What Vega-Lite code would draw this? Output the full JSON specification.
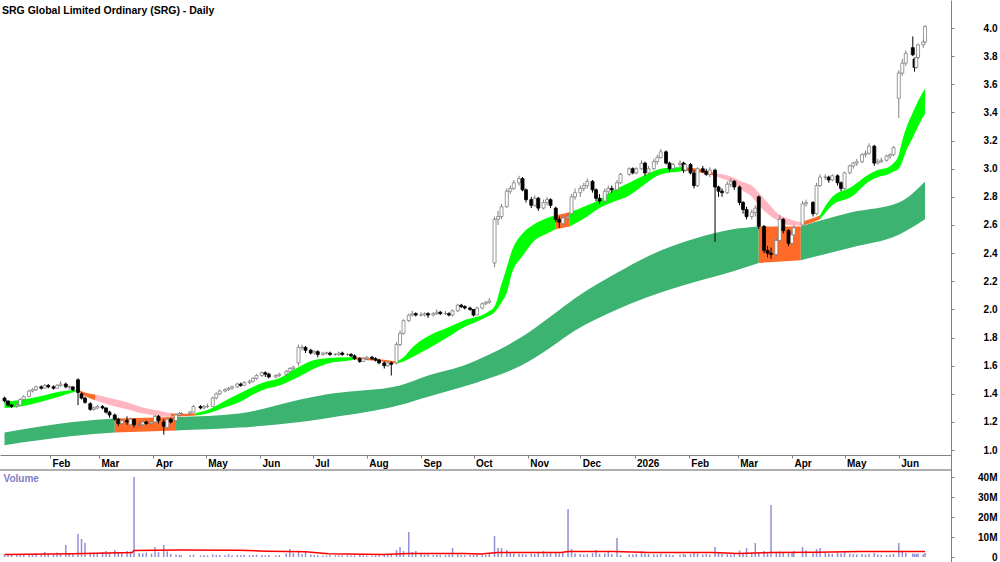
{
  "$schema": "https://vega.github.io/schema/vega-lite/v6.json",
  "width": 951,
  "height": 562,
  "autosize": {"type": "none"},
  "padding": {"left": 0, "top": 0, "right": 49, "bottom": 0},
  "background": "white",
  "title": {"text": "SRG Global Limited Ordinary (SRG) - Daily", "anchor": "start", "frame": "group", "offset": -24, "dx": 2, "font": "Liberation Sans", "fontSize": 10.5, "fontWeight": "bold", "color": "#000000", "baseline": "alphabetic"},
  "config": {"view": {"stroke": null}, "axis": {"labelFont": "Liberation Sans", "labelFontSize": 10, "labelFontWeight": "bold", "labelColor": "#000000", "domainColor": "#808080", "tickColor": "#808080", "grid": false, "labelOverlap": false}},
  "datasets": {
    "candles": [
      {"d":"2025-01-06","o":1.37,"h":1.38,"l":1.34,"c":1.35,"v":1.2},
      {"d":"2025-01-08","o":1.35,"h":1.35,"l":1.31,"c":1.32,"v":1.0},
      {"d":"2025-01-10","o":1.32,"h":1.33,"l":1.30,"c":1.31,"v":1.1},
      {"d":"2025-01-13","o":1.31,"h":1.33,"l":1.30,"c":1.32,"v":0.9},
      {"d":"2025-01-15","o":1.32,"h":1.37,"l":1.32,"c":1.36,"v":1.4},
      {"d":"2025-01-17","o":1.36,"h":1.39,"l":1.35,"c":1.38,"v":1.1},
      {"d":"2025-01-20","o":1.38,"h":1.43,"l":1.38,"c":1.42,"v":1.6},
      {"d":"2025-01-22","o":1.42,"h":1.44,"l":1.41,"c":1.43,"v":1.3},
      {"d":"2025-01-24","o":1.43,"h":1.46,"l":1.42,"c":1.45,"v":2.0},
      {"d":"2025-01-27","o":1.45,"h":1.46,"l":1.43,"c":1.44,"v":1.2},
      {"d":"2025-01-29","o":1.44,"h":1.47,"l":1.44,"c":1.46,"v":2.5},
      {"d":"2025-01-31","o":1.46,"h":1.47,"l":1.44,"c":1.45,"v":1.5},
      {"d":"2025-02-03","o":1.45,"h":1.46,"l":1.43,"c":1.44,"v":1.2},
      {"d":"2025-02-05","o":1.44,"h":1.47,"l":1.44,"c":1.46,"v":2.2},
      {"d":"2025-02-07","o":1.46,"h":1.49,"l":1.45,"c":1.47,"v":1.8},
      {"d":"2025-02-10","o":1.47,"h":1.48,"l":1.44,"c":1.45,"v":6.0},
      {"d":"2025-02-12","o":1.45,"h":1.46,"l":1.43,"c":1.45,"v":1.5},
      {"d":"2025-02-14","o":1.45,"h":1.45,"l":1.42,"c":1.43,"v":1.4},
      {"d":"2025-02-17","o":1.50,"h":1.51,"l":1.32,"c":1.41,"v":11.5},
      {"d":"2025-02-19","o":1.40,"h":1.41,"l":1.36,"c":1.37,"v":9.0},
      {"d":"2025-02-21","o":1.37,"h":1.38,"l":1.33,"c":1.34,"v":7.0},
      {"d":"2025-02-24","o":1.33,"h":1.34,"l":1.28,"c":1.29,"v":2.2},
      {"d":"2025-02-26","o":1.29,"h":1.31,"l":1.28,"c":1.30,"v":1.8},
      {"d":"2025-02-28","o":1.30,"h":1.32,"l":1.29,"c":1.31,"v":2.0},
      {"d":"2025-03-03","o":1.31,"h":1.32,"l":1.29,"c":1.30,"v":2.5},
      {"d":"2025-03-05","o":1.30,"h":1.30,"l":1.26,"c":1.27,"v":3.0},
      {"d":"2025-03-07","o":1.27,"h":1.28,"l":1.23,"c":1.25,"v":2.4},
      {"d":"2025-03-10","o":1.25,"h":1.26,"l":1.21,"c":1.22,"v":3.5},
      {"d":"2025-03-12","o":1.22,"h":1.23,"l":1.17,"c":1.19,"v":2.6},
      {"d":"2025-03-14","o":1.19,"h":1.22,"l":1.18,"c":1.21,"v":2.2},
      {"d":"2025-03-17","o":1.21,"h":1.24,"l":1.18,"c":1.20,"v":3.0},
      {"d":"2025-03-19","o":1.18,"h":1.23,"l":1.17,"c":1.22,"v":2.8},
      {"d":"2025-03-21","o":1.22,"h":1.22,"l":1.16,"c":1.18,"v":40},
      {"d":"2025-03-24","o":1.18,"h":1.20,"l":1.16,"c":1.18,"v":2.0},
      {"d":"2025-03-26","o":1.18,"h":1.21,"l":1.17,"c":1.20,"v":1.8},
      {"d":"2025-03-28","o":1.20,"h":1.21,"l":1.18,"c":1.19,"v":2.2},
      {"d":"2025-03-31","o":1.19,"h":1.21,"l":1.18,"c":1.20,"v":1.6},
      {"d":"2025-04-02","o":1.20,"h":1.25,"l":1.20,"c":1.24,"v":5.0},
      {"d":"2025-04-04","o":1.24,"h":1.25,"l":1.19,"c":1.21,"v":2.4},
      {"d":"2025-04-07","o":1.20,"h":1.22,"l":1.11,"c":1.17,"v":6.0},
      {"d":"2025-04-09","o":1.16,"h":1.23,"l":1.15,"c":1.22,"v":2.8},
      {"d":"2025-04-11","o":1.22,"h":1.23,"l":1.19,"c":1.20,"v":1.5},
      {"d":"2025-04-14","o":1.21,"h":1.26,"l":1.21,"c":1.25,"v":1.2},
      {"d":"2025-04-16","o":1.25,"h":1.27,"l":1.24,"c":1.26,"v":1.0},
      {"d":"2025-04-17","o":1.26,"h":1.27,"l":1.25,"c":1.26,"v":0.8},
      {"d":"2025-04-22","o":1.26,"h":1.28,"l":1.25,"c":1.27,"v":0.9},
      {"d":"2025-04-24","o":1.27,"h":1.32,"l":1.27,"c":1.31,"v":1.2},
      {"d":"2025-04-28","o":1.31,"h":1.32,"l":1.29,"c":1.30,"v":0.8},
      {"d":"2025-04-30","o":1.30,"h":1.32,"l":1.29,"c":1.31,"v":1.0},
      {"d":"2025-05-02","o":1.31,"h":1.33,"l":1.30,"c":1.31,"v":0.9},
      {"d":"2025-05-05","o":1.31,"h":1.38,"l":1.31,"c":1.37,"v":1.3},
      {"d":"2025-05-07","o":1.37,"h":1.41,"l":1.36,"c":1.40,"v":1.1},
      {"d":"2025-05-09","o":1.40,"h":1.43,"l":1.39,"c":1.42,"v":1.0},
      {"d":"2025-05-12","o":1.42,"h":1.44,"l":1.41,"c":1.43,"v":0.9},
      {"d":"2025-05-14","o":1.43,"h":1.45,"l":1.42,"c":1.44,"v":1.4},
      {"d":"2025-05-16","o":1.44,"h":1.46,"l":1.43,"c":1.45,"v":0.8},
      {"d":"2025-05-19","o":1.45,"h":1.48,"l":1.44,"c":1.47,"v":1.0},
      {"d":"2025-05-21","o":1.47,"h":1.48,"l":1.45,"c":1.46,"v":0.9},
      {"d":"2025-05-23","o":1.46,"h":1.49,"l":1.46,"c":1.48,"v":1.1},
      {"d":"2025-05-26","o":1.48,"h":1.50,"l":1.47,"c":1.49,"v":0.8},
      {"d":"2025-05-28","o":1.49,"h":1.52,"l":1.48,"c":1.51,"v":1.0},
      {"d":"2025-05-30","o":1.51,"h":1.54,"l":1.50,"c":1.53,"v":1.2},
      {"d":"2025-06-02","o":1.53,"h":1.56,"l":1.52,"c":1.55,"v":0.9},
      {"d":"2025-06-04","o":1.55,"h":1.56,"l":1.52,"c":1.54,"v":0.8},
      {"d":"2025-06-06","o":1.54,"h":1.55,"l":1.51,"c":1.52,"v":1.0},
      {"d":"2025-06-10","o":1.52,"h":1.54,"l":1.51,"c":1.53,"v":0.7},
      {"d":"2025-06-12","o":1.53,"h":1.55,"l":1.52,"c":1.54,"v":0.9},
      {"d":"2025-06-16","o":1.54,"h":1.57,"l":1.53,"c":1.56,"v":1.8},
      {"d":"2025-06-18","o":1.56,"h":1.59,"l":1.55,"c":1.58,"v":4.0},
      {"d":"2025-06-20","o":1.58,"h":1.60,"l":1.56,"c":1.59,"v":2.0},
      {"d":"2025-06-23","o":1.62,"h":1.75,"l":1.60,"c":1.73,"v":3.2},
      {"d":"2025-06-25","o":1.73,"h":1.75,"l":1.71,"c":1.73,"v":1.5},
      {"d":"2025-06-27","o":1.73,"h":1.74,"l":1.69,"c":1.71,"v":3.0},
      {"d":"2025-06-30","o":1.71,"h":1.72,"l":1.68,"c":1.69,"v":1.2},
      {"d":"2025-07-02","o":1.69,"h":1.71,"l":1.68,"c":1.70,"v":1.0},
      {"d":"2025-07-04","o":1.70,"h":1.71,"l":1.66,"c":1.68,"v":0.9},
      {"d":"2025-07-07","o":1.68,"h":1.70,"l":1.67,"c":1.69,"v":0.8},
      {"d":"2025-07-09","o":1.69,"h":1.70,"l":1.68,"c":1.69,"v":0.7},
      {"d":"2025-07-11","o":1.69,"h":1.70,"l":1.67,"c":1.68,"v":0.9},
      {"d":"2025-07-14","o":1.68,"h":1.69,"l":1.67,"c":1.68,"v":0.8},
      {"d":"2025-07-16","o":1.68,"h":1.70,"l":1.67,"c":1.69,"v":0.7},
      {"d":"2025-07-18","o":1.69,"h":1.70,"l":1.67,"c":1.68,"v":0.8},
      {"d":"2025-07-21","o":1.68,"h":1.69,"l":1.67,"c":1.68,"v":0.9},
      {"d":"2025-07-23","o":1.68,"h":1.69,"l":1.66,"c":1.67,"v":0.7},
      {"d":"2025-07-25","o":1.67,"h":1.68,"l":1.64,"c":1.65,"v":0.8},
      {"d":"2025-07-28","o":1.65,"h":1.66,"l":1.62,"c":1.63,"v":1.0},
      {"d":"2025-07-30","o":1.63,"h":1.66,"l":1.63,"c":1.65,"v":0.8},
      {"d":"2025-08-01","o":1.65,"h":1.67,"l":1.64,"c":1.66,"v":0.7},
      {"d":"2025-08-04","o":1.66,"h":1.67,"l":1.64,"c":1.65,"v":0.6},
      {"d":"2025-08-06","o":1.65,"h":1.66,"l":1.63,"c":1.64,"v":0.8},
      {"d":"2025-08-08","o":1.64,"h":1.65,"l":1.61,"c":1.62,"v":0.9},
      {"d":"2025-08-11","o":1.62,"h":1.63,"l":1.58,"c":1.60,"v":1.1},
      {"d":"2025-08-13","o":1.60,"h":1.63,"l":1.59,"c":1.62,"v":1.0},
      {"d":"2025-08-15","o":1.62,"h":1.63,"l":1.53,"c":1.61,"v":1.5},
      {"d":"2025-08-18","o":1.62,"h":1.77,"l":1.61,"c":1.75,"v":3.5},
      {"d":"2025-08-20","o":1.75,"h":1.85,"l":1.74,"c":1.83,"v":5.0},
      {"d":"2025-08-22","o":1.83,"h":1.93,"l":1.82,"c":1.92,"v":3.0},
      {"d":"2025-08-25","o":1.92,"h":1.97,"l":1.91,"c":1.96,"v":12.5},
      {"d":"2025-08-27","o":1.96,"h":1.99,"l":1.95,"c":1.97,"v":2.5},
      {"d":"2025-08-29","o":1.97,"h":1.98,"l":1.95,"c":1.96,"v":3.0},
      {"d":"2025-09-01","o":1.96,"h":1.98,"l":1.95,"c":1.96,"v":1.5},
      {"d":"2025-09-03","o":1.96,"h":1.98,"l":1.95,"c":1.97,"v":1.2},
      {"d":"2025-09-05","o":1.97,"h":1.98,"l":1.94,"c":1.96,"v":1.4},
      {"d":"2025-09-08","o":1.96,"h":1.98,"l":1.95,"c":1.97,"v":1.0},
      {"d":"2025-09-10","o":1.97,"h":2.00,"l":1.96,"c":1.98,"v":1.3},
      {"d":"2025-09-12","o":1.98,"h":1.99,"l":1.96,"c":1.97,"v":1.1},
      {"d":"2025-09-15","o":1.97,"h":1.99,"l":1.96,"c":1.97,"v":1.0},
      {"d":"2025-09-17","o":1.97,"h":1.98,"l":1.95,"c":1.96,"v":1.2},
      {"d":"2025-09-19","o":1.96,"h":2.00,"l":1.95,"c":1.99,"v":4.5},
      {"d":"2025-09-22","o":1.99,"h":2.04,"l":1.98,"c":2.03,"v":1.4},
      {"d":"2025-09-24","o":2.03,"h":2.04,"l":2.01,"c":2.02,"v":1.0},
      {"d":"2025-09-26","o":2.02,"h":2.03,"l":2.00,"c":2.01,"v":0.9},
      {"d":"2025-09-29","o":2.01,"h":2.02,"l":1.99,"c":2.00,"v":1.0},
      {"d":"2025-10-01","o":2.00,"h":2.00,"l":1.95,"c":1.96,"v":1.1},
      {"d":"2025-10-03","o":1.96,"h":2.02,"l":1.96,"c":2.01,"v":1.3},
      {"d":"2025-10-06","o":2.01,"h":2.05,"l":2.00,"c":2.04,"v":1.2},
      {"d":"2025-10-08","o":2.04,"h":2.06,"l":2.03,"c":2.05,"v":1.0},
      {"d":"2025-10-10","o":2.05,"h":2.08,"l":2.04,"c":2.06,"v":1.5},
      {"d":"2025-10-13","o":2.33,"h":2.66,"l":2.30,"c":2.64,"v":10.5},
      {"d":"2025-10-15","o":2.64,"h":2.70,"l":2.60,"c":2.66,"v":4.5},
      {"d":"2025-10-17","o":2.66,"h":2.75,"l":2.64,"c":2.73,"v":4.5},
      {"d":"2025-10-20","o":2.73,"h":2.86,"l":2.72,"c":2.84,"v":3.5},
      {"d":"2025-10-22","o":2.84,"h":2.88,"l":2.82,"c":2.86,"v":2.0},
      {"d":"2025-10-24","o":2.86,"h":2.92,"l":2.85,"c":2.90,"v":1.8},
      {"d":"2025-10-27","o":2.90,"h":2.95,"l":2.88,"c":2.93,"v":1.6},
      {"d":"2025-10-29","o":2.93,"h":2.94,"l":2.84,"c":2.85,"v":1.5},
      {"d":"2025-10-31","o":2.85,"h":2.86,"l":2.76,"c":2.78,"v":1.4},
      {"d":"2025-11-03","o":2.78,"h":2.80,"l":2.72,"c":2.74,"v":1.6},
      {"d":"2025-11-05","o":2.74,"h":2.81,"l":2.73,"c":2.79,"v":1.5},
      {"d":"2025-11-07","o":2.79,"h":2.80,"l":2.70,"c":2.72,"v":2.0},
      {"d":"2025-11-10","o":2.72,"h":2.78,"l":2.71,"c":2.76,"v":3.0},
      {"d":"2025-11-12","o":2.76,"h":2.80,"l":2.74,"c":2.78,"v":1.6},
      {"d":"2025-11-14","o":2.78,"h":2.79,"l":2.72,"c":2.74,"v":2.0},
      {"d":"2025-11-17","o":2.72,"h":2.73,"l":2.62,"c":2.64,"v":2.2},
      {"d":"2025-11-19","o":2.64,"h":2.66,"l":2.58,"c":2.62,"v":1.8},
      {"d":"2025-11-21","o":2.61,"h":2.67,"l":2.60,"c":2.65,"v":2.5},
      {"d":"2025-11-24","o":2.65,"h":2.69,"l":2.63,"c":2.66,"v":24},
      {"d":"2025-11-26","o":2.68,"h":2.82,"l":2.67,"c":2.80,"v":4.0},
      {"d":"2025-11-28","o":2.80,"h":2.86,"l":2.78,"c":2.83,"v":1.8},
      {"d":"2025-12-01","o":2.83,"h":2.88,"l":2.80,"c":2.86,"v":1.5},
      {"d":"2025-12-03","o":2.86,"h":2.90,"l":2.84,"c":2.88,"v":1.2},
      {"d":"2025-12-05","o":2.88,"h":2.93,"l":2.86,"c":2.91,"v":1.4},
      {"d":"2025-12-08","o":2.91,"h":2.92,"l":2.83,"c":2.85,"v":2.0},
      {"d":"2025-12-10","o":2.85,"h":2.86,"l":2.77,"c":2.79,"v":3.5},
      {"d":"2025-12-12","o":2.79,"h":2.82,"l":2.75,"c":2.77,"v":1.6},
      {"d":"2025-12-15","o":2.77,"h":2.86,"l":2.76,"c":2.84,"v":1.8},
      {"d":"2025-12-17","o":2.84,"h":2.88,"l":2.82,"c":2.86,"v":3.2},
      {"d":"2025-12-19","o":2.86,"h":2.88,"l":2.83,"c":2.85,"v":1.5},
      {"d":"2025-12-22","o":2.85,"h":2.92,"l":2.84,"c":2.90,"v":9.5},
      {"d":"2025-12-24","o":2.90,"h":2.97,"l":2.89,"c":2.96,"v":1.0},
      {"d":"2025-12-29","o":2.96,"h":3.01,"l":2.95,"c":3.00,"v":1.4},
      {"d":"2025-12-31","o":3.00,"h":3.01,"l":2.96,"c":2.97,"v":1.2},
      {"d":"2026-01-02","o":2.97,"h":3.01,"l":2.96,"c":3.00,"v":1.6},
      {"d":"2026-01-05","o":3.00,"h":3.06,"l":2.99,"c":3.04,"v":3.0},
      {"d":"2026-01-07","o":3.04,"h":3.05,"l":2.95,"c":2.97,"v":1.8},
      {"d":"2026-01-09","o":2.97,"h":3.02,"l":2.96,"c":3.00,"v":1.5},
      {"d":"2026-01-12","o":3.00,"h":3.07,"l":2.99,"c":3.05,"v":1.4},
      {"d":"2026-01-14","o":3.05,"h":3.10,"l":3.03,"c":3.08,"v":1.2},
      {"d":"2026-01-16","o":3.08,"h":3.14,"l":3.07,"c":3.12,"v":1.6},
      {"d":"2026-01-19","o":3.12,"h":3.13,"l":3.03,"c":3.04,"v":1.4},
      {"d":"2026-01-21","o":3.04,"h":3.05,"l":2.98,"c":3.00,"v":1.2},
      {"d":"2026-01-23","o":3.00,"h":3.04,"l":2.99,"c":3.03,"v":1.0},
      {"d":"2026-01-27","o":3.03,"h":3.06,"l":3.01,"c":3.04,"v":1.3},
      {"d":"2026-01-29","o":3.04,"h":3.05,"l":2.97,"c":2.99,"v":1.5},
      {"d":"2026-01-30","o":2.99,"h":3.04,"l":2.98,"c":3.03,"v":1.2},
      {"d":"2026-02-02","o":3.03,"h":3.04,"l":2.96,"c":2.97,"v":1.4},
      {"d":"2026-02-04","o":2.97,"h":2.99,"l":2.86,"c":2.88,"v":2.0},
      {"d":"2026-02-06","o":2.88,"h":3.01,"l":2.87,"c":3.00,"v":1.8},
      {"d":"2026-02-09","o":3.00,"h":3.02,"l":2.97,"c":2.98,"v":1.2},
      {"d":"2026-02-11","o":2.98,"h":3.00,"l":2.95,"c":2.96,"v":1.5},
      {"d":"2026-02-13","o":2.96,"h":3.01,"l":2.94,"c":2.99,"v":1.3},
      {"d":"2026-02-16","o":2.99,"h":3.00,"l":2.48,"c":2.87,"v":5.0},
      {"d":"2026-02-18","o":2.87,"h":2.88,"l":2.80,"c":2.84,"v":2.2},
      {"d":"2026-02-20","o":2.84,"h":2.86,"l":2.80,"c":2.83,"v":1.5},
      {"d":"2026-02-23","o":2.83,"h":2.91,"l":2.82,"c":2.89,"v":1.4},
      {"d":"2026-02-25","o":2.89,"h":2.93,"l":2.87,"c":2.91,"v":1.2},
      {"d":"2026-02-27","o":2.91,"h":2.92,"l":2.85,"c":2.87,"v":1.6},
      {"d":"2026-03-02","o":2.87,"h":2.88,"l":2.74,"c":2.76,"v":3.2},
      {"d":"2026-03-04","o":2.76,"h":2.77,"l":2.68,"c":2.71,"v":2.0},
      {"d":"2026-03-06","o":2.71,"h":2.73,"l":2.64,"c":2.66,"v":4.5},
      {"d":"2026-03-09","o":2.66,"h":2.71,"l":2.64,"c":2.69,"v":2.2},
      {"d":"2026-03-11","o":2.69,"h":2.74,"l":2.66,"c":2.72,"v":7.0},
      {"d":"2026-03-13","o":2.80,"h":2.81,"l":2.57,"c":2.59,"v":2.5},
      {"d":"2026-03-16","o":2.59,"h":2.60,"l":2.40,"c":2.42,"v":3.0},
      {"d":"2026-03-18","o":2.42,"h":2.45,"l":2.37,"c":2.40,"v":2.4},
      {"d":"2026-03-20","o":2.40,"h":2.44,"l":2.36,"c":2.39,"v":26},
      {"d":"2026-03-23","o":2.39,"h":2.51,"l":2.38,"c":2.49,"v":2.6},
      {"d":"2026-03-25","o":2.49,"h":2.67,"l":2.48,"c":2.64,"v":2.8},
      {"d":"2026-03-27","o":2.64,"h":2.65,"l":2.54,"c":2.56,"v":2.2},
      {"d":"2026-03-30","o":2.56,"h":2.57,"l":2.45,"c":2.47,"v":2.0},
      {"d":"2026-04-01","o":2.47,"h":2.55,"l":2.46,"c":2.53,"v":2.4},
      {"d":"2026-04-02","o":2.53,"h":2.60,"l":2.52,"c":2.58,"v":3.0},
      {"d":"2026-04-07","o":2.60,"h":2.77,"l":2.59,"c":2.75,"v":5.0},
      {"d":"2026-04-09","o":2.75,"h":2.78,"l":2.73,"c":2.76,"v":3.2},
      {"d":"2026-04-13","o":2.76,"h":2.77,"l":2.66,"c":2.68,"v":2.4},
      {"d":"2026-04-15","o":2.68,"h":2.90,"l":2.67,"c":2.88,"v":4.0},
      {"d":"2026-04-17","o":2.88,"h":2.96,"l":2.87,"c":2.94,"v":4.5},
      {"d":"2026-04-20","o":2.94,"h":2.96,"l":2.92,"c":2.94,"v":2.0},
      {"d":"2026-04-22","o":2.94,"h":2.95,"l":2.90,"c":2.92,"v":1.8},
      {"d":"2026-04-24","o":2.92,"h":2.96,"l":2.91,"c":2.95,"v":1.6},
      {"d":"2026-04-27","o":2.95,"h":2.96,"l":2.88,"c":2.90,"v":2.2},
      {"d":"2026-04-29","o":2.90,"h":2.91,"l":2.84,"c":2.86,"v":1.8},
      {"d":"2026-05-01","o":2.86,"h":2.98,"l":2.85,"c":2.97,"v":2.4},
      {"d":"2026-05-04","o":2.97,"h":3.03,"l":2.96,"c":3.02,"v":1.6},
      {"d":"2026-05-06","o":3.02,"h":3.05,"l":3.00,"c":3.04,"v":1.4},
      {"d":"2026-05-08","o":3.04,"h":3.07,"l":3.02,"c":3.05,"v":1.3},
      {"d":"2026-05-11","o":3.05,"h":3.11,"l":3.04,"c":3.10,"v":1.5},
      {"d":"2026-05-13","o":3.10,"h":3.13,"l":3.08,"c":3.11,"v":1.2},
      {"d":"2026-05-15","o":3.11,"h":3.18,"l":3.10,"c":3.16,"v":1.6},
      {"d":"2026-05-18","o":3.16,"h":3.17,"l":3.02,"c":3.04,"v":2.0},
      {"d":"2026-05-20","o":3.04,"h":3.07,"l":3.03,"c":3.05,"v":1.2},
      {"d":"2026-05-22","o":3.05,"h":3.08,"l":3.04,"c":3.06,"v":1.1},
      {"d":"2026-05-25","o":3.06,"h":3.10,"l":3.05,"c":3.09,"v":1.0},
      {"d":"2026-05-27","o":3.09,"h":3.11,"l":3.07,"c":3.10,"v":1.3},
      {"d":"2026-05-29","o":3.10,"h":3.16,"l":3.09,"c":3.15,"v":1.5},
      {"d":"2026-06-01","o":3.50,"h":3.70,"l":3.36,"c":3.68,"v":7.0},
      {"d":"2026-06-03","o":3.68,"h":3.78,"l":3.66,"c":3.75,"v":3.0},
      {"d":"2026-06-05","o":3.75,"h":3.84,"l":3.73,"c":3.82,"v":2.0},
      {"d":"2026-06-09","o":3.86,"h":3.94,"l":3.80,"c":3.81,"v":1.8},
      {"d":"2026-06-10","o":3.78,"h":3.79,"l":3.69,"c":3.72,"v":1.6},
      {"d":"2026-06-11","o":3.72,"h":3.81,"l":3.71,"c":3.79,"v":1.5},
      {"d":"2026-06-12","o":3.79,"h":3.89,"l":3.78,"c":3.88,"v":1.8},
      {"d":"2026-06-15","o":3.88,"h":3.92,"l":3.86,"c":3.90,"v":1.4},
      {"d":"2026-06-16","o":3.90,"h":4.02,"l":3.89,"c":4.01,"v":2.0}
    ],
    "stRib": [
      {"d":"2025-01-06","t":1.345,"b":1.30,"s":"g1","k":"g"},
      {"d":"2025-01-15","t":1.356,"b":1.31,"s":"g1","k":"g"},
      {"d":"2025-01-27","t":1.385,"b":1.344,"s":"g1","k":"g"},
      {"d":"2025-02-06","t":1.415,"b":1.38,"s":"g1","k":"g"},
      {"d":"2025-02-14","t":1.427,"b":1.41,"s":"g1","k":"g"},
      {"d":"2025-02-17","t":1.43,"b":1.42,"s":"g1","k":"g"},
      {"d":"2025-02-17","t":1.43,"b":1.42,"s":"o1","k":"o"},
      {"d":"2025-02-21","t":1.41,"b":1.385,"s":"o1","k":"o"},
      {"d":"2025-02-27","t":1.395,"b":1.355,"s":"o1","k":"o"},
      {"d":"2025-02-27","t":1.395,"b":1.355,"s":"p1","k":"p"},
      {"d":"2025-03-07","t":1.37,"b":1.32,"s":"p1","k":"p"},
      {"d":"2025-03-17","t":1.34,"b":1.29,"s":"p1","k":"p"},
      {"d":"2025-03-24","t":1.31,"b":1.265,"s":"p1","k":"p"},
      {"d":"2025-04-02","t":1.285,"b":1.245,"s":"p1","k":"p"},
      {"d":"2025-04-08","t":1.27,"b":1.237,"s":"p1","k":"p"},
      {"d":"2025-04-11","t":1.262,"b":1.237,"s":"p1","k":"p"},
      {"d":"2025-04-11","t":1.262,"b":1.237,"s":"o2","k":"o"},
      {"d":"2025-04-17","t":1.258,"b":1.24,"s":"o2","k":"o"},
      {"d":"2025-04-25","t":1.263,"b":1.247,"s":"o2","k":"o"},
      {"d":"2025-04-25","t":1.263,"b":1.247,"s":"g2","k":"g"},
      {"d":"2025-05-02","t":1.285,"b":1.26,"s":"g2","k":"g"},
      {"d":"2025-05-09","t":1.33,"b":1.29,"s":"g2","k":"g"},
      {"d":"2025-05-20","t":1.40,"b":1.34,"s":"g2","k":"g"},
      {"d":"2025-06-03","t":1.48,"b":1.43,"s":"g2","k":"g"},
      {"d":"2025-06-12","t":1.51,"b":1.46,"s":"g2","k":"g"},
      {"d":"2025-06-23","t":1.59,"b":1.52,"s":"g2","k":"g"},
      {"d":"2025-07-02","t":1.64,"b":1.58,"s":"g2","k":"g"},
      {"d":"2025-07-11","t":1.655,"b":1.62,"s":"g2","k":"g"},
      {"d":"2025-07-21","t":1.66,"b":1.635,"s":"g2","k":"g"},
      {"d":"2025-07-25","t":1.662,"b":1.645,"s":"g2","k":"g"},
      {"d":"2025-07-25","t":1.662,"b":1.645,"s":"o3","k":"o"},
      {"d":"2025-08-06","t":1.65,"b":1.635,"s":"o3","k":"o"},
      {"d":"2025-08-18","t":1.63,"b":1.615,"s":"o3","k":"o"},
      {"d":"2025-08-18","t":1.63,"b":1.615,"s":"g3","k":"g"},
      {"d":"2025-08-22","t":1.66,"b":1.63,"s":"g3","k":"g"},
      {"d":"2025-08-27","t":1.73,"b":1.66,"s":"g3","k":"g"},
      {"d":"2025-09-05","t":1.81,"b":1.72,"s":"g3","k":"g"},
      {"d":"2025-09-16","t":1.87,"b":1.80,"s":"g3","k":"g"},
      {"d":"2025-09-25","t":1.92,"b":1.87,"s":"g3","k":"g"},
      {"d":"2025-10-09","t":1.98,"b":1.95,"s":"g3","k":"g"},
      {"d":"2025-10-13","t":2.02,"b":1.98,"s":"g3","k":"g"},
      {"d":"2025-10-17","t":2.18,"b":2.05,"s":"g3","k":"g"},
      {"d":"2025-10-20","t":2.30,"b":2.12,"s":"g3","k":"g"},
      {"d":"2025-10-23","t":2.42,"b":2.26,"s":"g3","k":"g"},
      {"d":"2025-10-29","t":2.54,"b":2.38,"s":"g3","k":"g"},
      {"d":"2025-11-04","t":2.60,"b":2.48,"s":"g3","k":"g"},
      {"d":"2025-11-12","t":2.65,"b":2.54,"s":"g3","k":"g"},
      {"d":"2025-11-17","t":2.67,"b":2.57,"s":"g3","k":"g"},
      {"d":"2025-11-17","t":2.67,"b":2.57,"s":"o4","k":"o"},
      {"d":"2025-11-25","t":2.69,"b":2.59,"s":"o4","k":"o"},
      {"d":"2025-11-25","t":2.69,"b":2.59,"s":"g4","k":"g"},
      {"d":"2025-12-05","t":2.74,"b":2.66,"s":"g4","k":"g"},
      {"d":"2025-12-12","t":2.78,"b":2.72,"s":"g4","k":"g"},
      {"d":"2025-12-19","t":2.84,"b":2.76,"s":"g4","k":"g"},
      {"d":"2025-12-29","t":2.90,"b":2.81,"s":"g4","k":"g"},
      {"d":"2026-01-08","t":2.96,"b":2.90,"s":"g4","k":"g"},
      {"d":"2026-01-16","t":3.00,"b":2.96,"s":"g4","k":"g"},
      {"d":"2026-01-27","t":3.01,"b":2.98,"s":"g4","k":"g"},
      {"d":"2026-01-30","t":3.01,"b":2.985,"s":"g4","k":"g"},
      {"d":"2026-01-30","t":3.01,"b":2.985,"s":"o5","k":"o"},
      {"d":"2026-02-06","t":3.00,"b":2.975,"s":"o5","k":"o"},
      {"d":"2026-02-16","t":2.97,"b":2.95,"s":"o5","k":"o"},
      {"d":"2026-02-16","t":2.97,"b":2.95,"s":"p2","k":"p"},
      {"d":"2026-02-20","t":2.96,"b":2.93,"s":"p2","k":"p"},
      {"d":"2026-02-26","t":2.94,"b":2.90,"s":"p2","k":"p"},
      {"d":"2026-03-03","t":2.91,"b":2.85,"s":"p2","k":"p"},
      {"d":"2026-03-09","t":2.88,"b":2.80,"s":"p2","k":"p"},
      {"d":"2026-03-13","t":2.83,"b":2.74,"s":"p2","k":"p"},
      {"d":"2026-03-18","t":2.76,"b":2.68,"s":"p2","k":"p"},
      {"d":"2026-03-24","t":2.68,"b":2.63,"s":"p2","k":"p"},
      {"d":"2026-03-30","t":2.645,"b":2.60,"s":"p2","k":"p"},
      {"d":"2026-04-06","t":2.62,"b":2.595,"s":"p2","k":"p"},
      {"d":"2026-04-06","t":2.62,"b":2.595,"s":"o6","k":"o"},
      {"d":"2026-04-11","t":2.64,"b":2.61,"s":"o6","k":"o"},
      {"d":"2026-04-17","t":2.67,"b":2.64,"s":"o6","k":"o"},
      {"d":"2026-04-17","t":2.67,"b":2.64,"s":"g5","k":"g"},
      {"d":"2026-04-24","t":2.80,"b":2.74,"s":"g5","k":"g"},
      {"d":"2026-05-05","t":2.87,"b":2.80,"s":"g5","k":"g"},
      {"d":"2026-05-15","t":2.96,"b":2.91,"s":"g5","k":"g"},
      {"d":"2026-05-20","t":2.99,"b":2.94,"s":"g5","k":"g"},
      {"d":"2026-05-26","t":3.01,"b":2.96,"s":"g5","k":"g"},
      {"d":"2026-05-29","t":3.04,"b":2.98,"s":"g5","k":"g"},
      {"d":"2026-06-01","t":3.10,"b":3.00,"s":"g5","k":"g"},
      {"d":"2026-06-03","t":3.20,"b":3.05,"s":"g5","k":"g"},
      {"d":"2026-06-05","t":3.28,"b":3.12,"s":"g5","k":"g"},
      {"d":"2026-06-09","t":3.40,"b":3.22,"s":"g5","k":"g"},
      {"d":"2026-06-12","t":3.48,"b":3.30,"s":"g5","k":"g"},
      {"d":"2026-06-16","t":3.57,"b":3.39,"s":"g5","k":"g"}
    ],
    "ltRib": [
      {"d":"2025-01-06","t":1.125,"b":1.035,"s":"L1","k":"L"},
      {"d":"2025-02-14","t":1.20,"b":1.10,"s":"L1","k":"L"},
      {"d":"2025-03-10","t":1.225,"b":1.125,"s":"L1","k":"L"},
      {"d":"2025-03-10","t":1.225,"b":1.125,"s":"Lo1","k":"Lo"},
      {"d":"2025-04-14","t":1.235,"b":1.14,"s":"Lo1","k":"Lo"},
      {"d":"2025-04-14","t":1.235,"b":1.14,"s":"L2","k":"L"},
      {"d":"2025-05-20","t":1.26,"b":1.16,"s":"L2","k":"L"},
      {"d":"2025-06-24","t":1.36,"b":1.20,"s":"L2","k":"L"},
      {"d":"2025-07-11","t":1.40,"b":1.23,"s":"L2","k":"L"},
      {"d":"2025-08-20","t":1.46,"b":1.32,"s":"L2","k":"L"},
      {"d":"2025-09-05","t":1.53,"b":1.38,"s":"L2","k":"L"},
      {"d":"2025-09-25","t":1.60,"b":1.45,"s":"L2","k":"L"},
      {"d":"2025-10-10","t":1.68,"b":1.51,"s":"L2","k":"L"},
      {"d":"2025-10-28","t":1.80,"b":1.60,"s":"L2","k":"L"},
      {"d":"2025-11-14","t":1.95,"b":1.73,"s":"L2","k":"L"},
      {"d":"2025-11-28","t":2.08,"b":1.85,"s":"L2","k":"L"},
      {"d":"2025-12-22","t":2.26,"b":2.00,"s":"L2","k":"L"},
      {"d":"2026-01-09","t":2.38,"b":2.09,"s":"L2","k":"L"},
      {"d":"2026-02-06","t":2.51,"b":2.20,"s":"L2","k":"L"},
      {"d":"2026-02-26","t":2.57,"b":2.27,"s":"L2","k":"L"},
      {"d":"2026-03-13","t":2.59,"b":2.33,"s":"L2","k":"L"},
      {"d":"2026-03-13","t":2.59,"b":2.33,"s":"Lo2","k":"Lo"},
      {"d":"2026-04-06","t":2.59,"b":2.35,"s":"Lo2","k":"Lo"},
      {"d":"2026-04-06","t":2.59,"b":2.35,"s":"L3","k":"L"},
      {"d":"2026-05-05","t":2.69,"b":2.44,"s":"L3","k":"L"},
      {"d":"2026-06-01","t":2.76,"b":2.53,"s":"L3","k":"L"},
      {"d":"2026-06-16","t":2.91,"b":2.64,"s":"L3","k":"L"}
    ],
    "vma": [
      {"d":"2025-01-06","m":1.3},
      {"d":"2025-02-14","m":1.6},
      {"d":"2025-03-20","m":2.2},
      {"d":"2025-03-21","m":3.2},
      {"d":"2025-04-15","m":3.5},
      {"d":"2025-05-20","m":3.4},
      {"d":"2025-06-05","m":2.9},
      {"d":"2025-06-27","m":2.6},
      {"d":"2025-07-10","m":1.6},
      {"d":"2025-08-10","m":1.3},
      {"d":"2025-08-25","m":1.8},
      {"d":"2025-09-25","m":1.8},
      {"d":"2025-10-05","m":1.5},
      {"d":"2025-10-15","m":2.2},
      {"d":"2025-11-20","m":2.3},
      {"d":"2025-11-24","m":2.7},
      {"d":"2025-12-20","m":2.7},
      {"d":"2026-01-10","m":2.3},
      {"d":"2026-02-15","m":2.2},
      {"d":"2026-03-01","m":1.7},
      {"d":"2026-03-20","m":2.3},
      {"d":"2026-04-15","m":2.4},
      {"d":"2026-05-10","m":2.8},
      {"d":"2026-06-16","m":2.8}
    ]
  },
  "layer": [
    {
      "encoding": {
        "x": {"field": "d", "type": "temporal", "title": null, "scale": {"nice": false, "padding": 0, "domain": [{"year": 2025, "month": 1, "date": 3, "hours": 10}, {"year": 2026, "month": 6, "date": 30, "hours": 20}]},
              "axis": {"orient": "bottom", "offset": -107, "title": null, "tickCount": {"interval": "month", "step": 1}, "labelExpr": "month(datum.value) == 0 ? timeFormat(datum.value, '%Y') : timeFormat(datum.value, '%b')", "labelAlign": "left", "labelOffset": 2, "labelPadding": 0, "labelBaseline": "top", "tickSize": 3, "labelFlush": false, "labelOverlap": false, "domainColor": "#808080", "tickColor": "#808080"}}
      },
      "layer": [
        {
          "data": {"name": "ltRib"},
          "mark": {"type": "area", "interpolate": "monotone"},
          "encoding": {
            "y": {"field": "t", "type": "quantitative", "title": null, "scale": {"domain": [0.205, 4.199], "nice": false, "zero": false},
                  "axis": {"orient": "right", "title": null, "values": [1.0, 1.2, 1.4, 1.6, 1.8, 2.0, 2.2, 2.4, 2.6, 2.8, 3.0, 3.2, 3.4, 3.6, 3.8, 4.0], "format": ".1f", "tickSize": 3, "labelAlign": "right", "labelPadding": 43, "labelOverlap": false, "labelBound": false, "domain": true}},
            "y2": {"field": "b"},
            "color": {"field": "k", "type": "nominal", "scale": {"domain": ["g", "o", "p", "L", "Lo"], "range": ["#00ff00", "#ff6a28", "#ffb6c1", "#3cb371", "#ff6a28"]}, "legend": null},
            "detail": {"field": "s"}
          }
        },
        {
          "data": {"name": "stRib"},
          "mark": {"type": "area", "interpolate": "monotone"},
          "encoding": {
            "y": {"field": "t", "type": "quantitative", "title": null, "scale": {"domain": [0.205, 4.199], "nice": false, "zero": false},
                  "axis": {"orient": "right", "title": null, "values": [1.0, 1.2, 1.4, 1.6, 1.8, 2.0, 2.2, 2.4, 2.6, 2.8, 3.0, 3.2, 3.4, 3.6, 3.8, 4.0], "format": ".1f", "tickSize": 3, "labelAlign": "right", "labelPadding": 43, "labelOverlap": false, "labelBound": false, "domain": true}},
            "y2": {"field": "b"},
            "color": {"field": "k", "type": "nominal", "scale": {"domain": ["g", "o", "p", "L", "Lo"], "range": ["#00ff00", "#ff6a28", "#ffb6c1", "#3cb371", "#ff6a28"]}, "legend": null},
            "detail": {"field": "s"}
          }
        },
        {
          "data": {"name": "candles"},
          "mark": {"type": "rule", "strokeWidth": 1},
          "encoding": {
            "y": {"field": "l", "type": "quantitative", "title": null, "scale": {"domain": [0.205, 4.199], "nice": false, "zero": false},
                  "axis": {"orient": "right", "title": null, "values": [1.0, 1.2, 1.4, 1.6, 1.8, 2.0, 2.2, 2.4, 2.6, 2.8, 3.0, 3.2, 3.4, 3.6, 3.8, 4.0], "format": ".1f", "tickSize": 3, "labelAlign": "right", "labelPadding": 43, "labelOverlap": false, "labelBound": false, "domain": true}},
            "y2": {"field": "h"},
            "stroke": {"condition": {"test": "datum.c >= datum.o", "value": "#808080"}, "value": "#000000"}
          }
        },
        {
          "data": {"name": "candles"},
          "mark": {"type": "bar", "size": 3, "strokeWidth": 0.8},
          "encoding": {
            "y": {"field": "o", "type": "quantitative", "title": null, "scale": {"domain": [0.205, 4.199], "nice": false, "zero": false},
                  "axis": {"orient": "right", "title": null, "values": [1.0, 1.2, 1.4, 1.6, 1.8, 2.0, 2.2, 2.4, 2.6, 2.8, 3.0, 3.2, 3.4, 3.6, 3.8, 4.0], "format": ".1f", "tickSize": 3, "labelAlign": "right", "labelPadding": 43, "labelOverlap": false, "labelBound": false, "domain": true}},
            "y2": {"field": "c"},
            "fill": {"condition": {"test": "datum.c >= datum.o", "value": "#ffffff"}, "value": "#000000"},
            "stroke": {"condition": {"test": "datum.c >= datum.o", "value": "#808080"}, "value": "#000000"}
          }
        }
      ]
    },
    {
      "layer": [
        {
          "data": {"name": "candles"},
          "mark": {"type": "bar", "size": 1.5, "color": "#8f8fd6"},
          "encoding": {
            "x": {"field": "d", "type": "temporal", "title": null, "scale": {"nice": false, "padding": 0, "domain": [{"year": 2025, "month": 1, "date": 3, "hours": 10}, {"year": 2026, "month": 6, "date": 30, "hours": 20}]}},
            "y": {"field": "v", "type": "quantitative", "title": null, "scale": {"domain": [-2.5, 278.5], "nice": false, "zero": false},
                  "axis": {"orient": "right", "values": [0, 10, 20, 30, 40], "labelExpr": "datum.value == 0 ? '0' : datum.value + 'M'", "tickSize": 3, "labelAlign": "right", "labelPadding": 43, "labelOverlap": false, "domain": false,
                           "title": "Volume", "titleAngle": 0, "titleAlign": "left", "titleBaseline": "middle", "titleX": -948, "titleY": 478, "titleColor": "#8080c4", "titleFont": "Liberation Sans", "titleFontSize": 10, "titleFontWeight": "bold"}},
            "y2": {"datum": 0}
          }
        },
        {
          "data": {"name": "vma"},
          "mark": {"type": "line", "color": "#ff0000", "strokeWidth": 1.5},
          "encoding": {
            "x": {"field": "d", "type": "temporal", "title": null, "scale": {"nice": false, "padding": 0, "domain": [{"year": 2025, "month": 1, "date": 3, "hours": 10}, {"year": 2026, "month": 6, "date": 30, "hours": 20}]}},
            "y": {"field": "m", "type": "quantitative", "title": null, "scale": {"domain": [-2.5, 278.5], "nice": false, "zero": false},
                  "axis": {"orient": "right", "values": [0, 10, 20, 30, 40], "labelExpr": "datum.value == 0 ? '0' : datum.value + 'M'", "tickSize": 3, "labelAlign": "right", "labelPadding": 43, "labelOverlap": false, "domain": false,
                           "title": "Volume", "titleAngle": 0, "titleAlign": "left", "titleBaseline": "middle", "titleX": -948, "titleY": 478, "titleColor": "#8080c4", "titleFont": "Liberation Sans", "titleFontSize": 10, "titleFontWeight": "bold"}}
          }
        },
        {
          "data": {"values": [{}]},
          "mark": {"type": "rule", "color": "#606060", "strokeWidth": 1},
          "encoding": {
            "y": {"datum": 43.5}
          }
        }
      ]
    }
  ],
  "resolve": {"scale": {"y": "independent"}}
}
